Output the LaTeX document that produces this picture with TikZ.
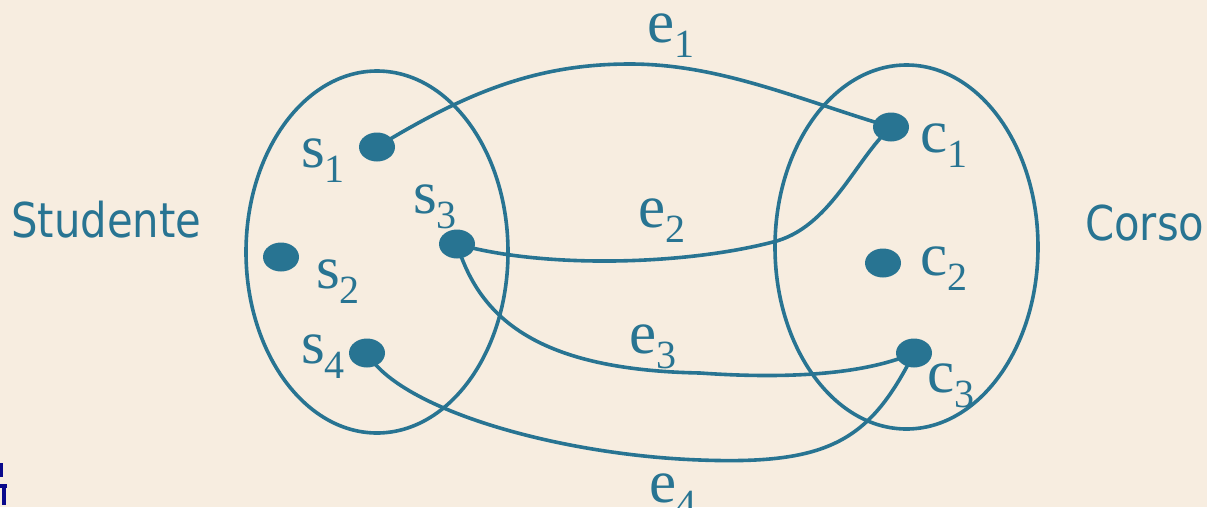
\documentclass[tikz,border=0pt]{standalone}
\usepackage{fontspec}
\setmainfont{Liberation Serif}
\newfontfamily\vfont{Liberation Serif}
\newfontfamily\labfont[FakeStretch=0.87]{DejaVu Sans}
\usetikzlibrary{shapes.geometric}
\definecolor{bgc}{RGB}{247,237,224}
\definecolor{tealc}{RGB}{40,116,146}
\definecolor{navyc}{RGB}{10,10,140}
\newcommand{\elab}[2]{#1\raisebox{-15pt}{\fontsize{40}{40}\selectfont #2}}
\begin{document}
\begin{tikzpicture}[x=1pt,y=-1pt,
  dotnode/.style={ellipse,fill=tealc,draw=none,minimum width=36pt,minimum height=29pt,inner sep=0pt},
  setshape/.style={draw=tealc,line width=3.6pt},
  edge/.style={draw=tealc,line width=3.6pt},
  vlab/.style={anchor=base west,inner sep=0pt,text=tealc,font=\vfont\fontsize{61}{61}\selectfont},
  setlab/.style={anchor=base west,inner sep=0pt,text=tealc,font=\labfont\fontsize{48}{48}\selectfont}]
\useasboundingbox (0,0) rectangle (1207,507);
\clip (0,0) rectangle (1207,507);
\fill[bgc] (0,0) rectangle (1207,507);
% sets
\node[setshape,ellipse,minimum width=262pt,minimum height=362pt,inner sep=0pt] (S) at (377,252) {};
\node[setshape,ellipse,minimum width=263pt,minimum height=364pt,inner sep=0pt] (C) at (906.5,247) {};
% dots
\node[dotnode] (s1) at (377,147) {};
\node[dotnode] (s2) at (281,257) {};
\node[dotnode] (s3) at (457,244) {};
\node[dotnode] (s4) at (367,353) {};
\node[dotnode] (c1) at (891,127) {};
\node[dotnode] (c2) at (883,263) {};
\node[dotnode] (c3) at (914,353) {};
% edges
\coordinate (m1) at (630,64);
\coordinate (m2) at (773,242);
\coordinate (m3) at (700,373);
\coordinate (m4) at (700,460);
\draw[edge] (s1.center) .. controls (470,90) and (540,64) .. (m1) .. controls (720,64) and (800,100) .. (c1.center);
\draw[edge] (s3.center) .. controls (540,268) and (680,266) .. (m2) .. controls (830,228) and (855,160) .. (c1.center);
\draw[edge] (s3.center) .. controls (480,320) and (540,370) .. (m3) .. controls (800,380) and (870,372) .. (c3.center);
\draw[edge] (s4.center) .. controls (400,410) and (560,455) .. (m4) .. controls (830,465) and (870,440) .. (c3.center);
% labels
\node[vlab] (ls1) at (301,167) {\elab{s}{1}};
\node[vlab] (ls2) at (316,288) {\elab{s}{2}};
\node[vlab] (ls3) at (413,213) {\elab{s}{3}};
\node[vlab] (ls4) at (301,363) {\elab{s}{4}};
\node[vlab] (lc1) at (920,152) {\elab{c}{1}};
\node[vlab] (lc2) at (920,275) {\elab{c}{2}};
\node[vlab] (lc3) at (927,392) {\elab{c}{3}};
\node[vlab] (le1) at (647,42) {\elab{e}{1}};
\node[vlab] (le2) at (638,227) {\elab{e}{2}};
\node[vlab] (le3) at (629,353) {\elab{e}{3}};
\node[vlab] (le4) at (649,502) {\elab{e}{4}};
\node[setlab] (stud) at (11,237) {Studente};
\node[setlab] (corso) at (1085,240) {Corso};
% cropped logo fragment
\fill[navyc] (0,463) rectangle (2.5,477);
\fill[navyc] (0,484) rectangle (7,488);
\fill[navyc] (2,484) rectangle (5.5,505);
\end{tikzpicture}
\end{document}
